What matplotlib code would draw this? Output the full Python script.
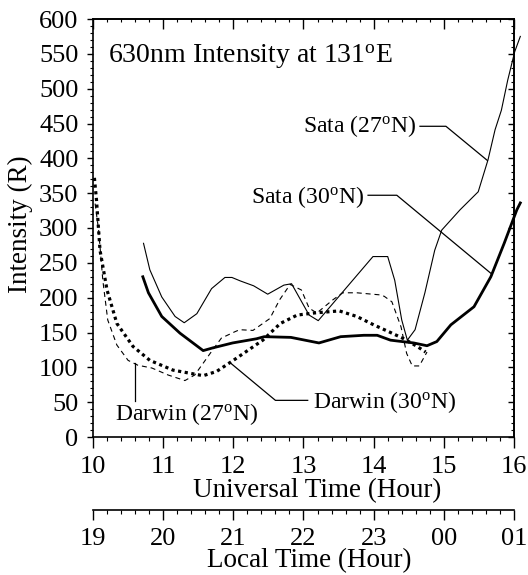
import matplotlib
matplotlib.use("Agg")
import matplotlib.pyplot as plt
from matplotlib.ticker import MultipleLocator, FixedLocator, FixedFormatter

# ---------------- data ----------------
sata27_t = [10.72, 10.81, 10.98, 11.17, 11.30, 11.48, 11.69, 11.88, 11.98, 12.10, 12.29,
            12.49, 12.72, 12.83, 13.08, 13.21, 13.99, 14.20, 14.30, 14.40, 14.48,
            14.59, 14.73, 14.87, 14.97, 15.23, 15.49, 15.63, 15.73, 15.82, 15.91,
            16.01, 16.09]
sata27_i = [278, 240, 201, 173, 164, 177, 213, 229, 229, 224, 217,
            205, 218, 220, 175, 167, 259, 259, 225, 168, 139,
            154, 207, 268, 297, 326, 352, 398, 441, 469, 512,
            553, 575]

sata30_t = [10.71, 10.79, 10.98, 11.24, 11.57, 11.71, 11.99, 12.33, 12.44, 12.82, 13.22,
            13.53, 13.86, 14.05, 14.24, 14.57, 14.76, 14.90, 15.10, 15.43, 15.67,
            15.86, 16.04, 16.09]
sata30_i = [230, 207, 173, 149, 124, 128, 135, 141, 144, 143, 135,
            144, 146, 146, 139, 135, 131, 137, 161, 187, 230,
            278, 326, 336]

darwin27_t = [10.03, 10.08, 10.14, 10.21, 10.34, 10.50, 10.64, 10.84, 11.07, 11.31, 11.45,
              11.67, 11.83, 12.02, 12.09, 12.28, 12.52, 12.66, 12.81, 12.97, 13.08,
              13.19, 13.42, 13.56, 13.76, 14.09, 14.15, 14.26, 14.39, 14.47, 14.55,
              14.65, 14.76]
darwin27_i = [335, 297, 225, 168, 132, 110, 103, 99, 89, 81, 89,
              120, 142, 151, 154, 153, 170, 197, 219, 211, 185,
              178, 197, 207, 207, 204, 202, 194, 158, 120, 102,
              102, 122]

darwin30_t = [10.02, 10.05, 10.10, 10.20, 10.34, 10.57, 10.81, 11.14, 11.57, 11.76, 12.00,
              12.42, 12.67, 12.91, 13.15, 13.51, 13.76, 14.00, 14.24, 14.43, 14.62,
              14.74]
darwin30_i = [372, 340, 268, 211, 163, 130, 110, 96, 88, 94, 110,
              139, 163, 175, 178, 181, 173, 161, 150, 141, 130,
              122]

ut_ticks = [10, 11, 12, 13, 14, 15, 16]
lt_labels = ["19", "20", "21", "22", "23", "00", "01"]
y_ticks = list(range(0, 601, 50))

title = "630nm Intensity at 131$^{\\rm o}$E"
lab_sata27 = "Sata (27$^{\\rm o}$N)"
lab_sata30 = "Sata (30$^{\\rm o}$N)"
lab_darwin27 = "Darwin (27$^{\\rm o}$N)"
lab_darwin30 = "Darwin (30$^{\\rm o}$N)"

# ---------------- style ----------------
FONT = "Liberation Serif"
plt.rcParams["font.family"] = [FONT, "DejaVu Serif"]
plt.rcParams["mathtext.fontset"] = "custom"
plt.rcParams["mathtext.rm"] = FONT
plt.rcParams["mathtext.it"] = FONT + ":italic"
plt.rcParams["mathtext.bf"] = FONT + ":bold"
FS_TICK = 19
FS_TITLE = 20
FS_AXT = 19.5
FS_ANN = 17

W, H = 528, 575
fig = plt.figure(figsize=(W / 100, H / 100), dpi=100)
L, R, T, B = 93, 514, 19, 437
ax = fig.add_axes([L / W, (H - B) / H, (R - L) / W, (B - T) / H])

ax.plot(sata27_t, sata27_i, color="black", lw=0.8, clip_on=False)
ax.plot(sata30_t, sata30_i, color="black", lw=2.0, clip_on=False)
ax.plot(darwin27_t, darwin27_i, color="black", lw=0.8, linestyle=(0, (4.5, 3.5)))
ax.plot(darwin30_t, darwin30_i, color="black", lw=2.3, linestyle=(0, (1, 1.1)),
        dash_capstyle="butt")

ax.set_xlim(10, 16)
ax.set_ylim(0, 600)

for s in ax.spines.values():
    s.set_linewidth(1.2)

# bottom / left ticks (outward)
ax.xaxis.set_major_locator(FixedLocator(ut_ticks))
ax.xaxis.set_minor_locator(MultipleLocator(0.2))
ax.yaxis.set_major_locator(FixedLocator(y_ticks))
ax.yaxis.set_minor_locator(MultipleLocator(10))
ax.tick_params(axis="x", which="major", direction="out", length=8, width=1.0,
               labelsize=FS_TICK, pad=6)
ax.tick_params(axis="x", which="minor", direction="out", length=3, width=0.8)
ax.tick_params(axis="y", which="major", direction="out", length=4.5, width=1.0,
               labelsize=FS_TICK, pad=6)
ax.tick_params(axis="y", which="minor", direction="out", length=2, width=0.8)

# top ticks (inward)
top = ax.secondary_xaxis("top")
top.xaxis.set_major_locator(FixedLocator(ut_ticks))
top.xaxis.set_minor_locator(MultipleLocator(0.2))
top.tick_params(which="major", direction="in", length=7.5, width=1.0, labeltop=False)
top.tick_params(which="minor", direction="in", length=2.5, width=0.8)
top.spines["top"].set_linewidth(1.2)

# right ticks (inward)
right = ax.secondary_yaxis("right")
right.yaxis.set_major_locator(FixedLocator(y_ticks))
right.yaxis.set_minor_locator(MultipleLocator(10))
right.tick_params(which="major", direction="in", length=4, width=1.0, labelright=False)
right.tick_params(which="minor", direction="in", length=2, width=0.8)
right.spines["right"].set_linewidth(1.2)

# local time axis
loc = -(509.6 - B) / (B - T)
lt = ax.secondary_xaxis(loc)
lt.xaxis.set_major_locator(FixedLocator(ut_ticks))
lt.xaxis.set_major_formatter(FixedFormatter(lt_labels))
lt.xaxis.set_minor_locator(MultipleLocator(0.2))
lt.tick_params(which="major", direction="out", length=7.5, width=1.0,
               labelsize=FS_TICK, pad=6)
lt.tick_params(which="minor", direction="out", length=3, width=0.8)
lt.spines["bottom"].set_linewidth(1.2)

# axis titles
fig.text(20 / W, 1 - 224 / H, "Intensity (R)", rotation=90, ha="center", va="center",
         fontsize=FS_AXT)
fig.text(317 / W, 1 - 491 / H, "Universal Time (Hour)", ha="center", va="center",
         fontsize=FS_AXT)
fig.text(309 / W, 1 - 561 / H, "Local Time (Hour)", ha="center", va="center",
         fontsize=FS_AXT)

# title inside
ax.text(10.21, 537, title, ha="left", va="baseline", fontsize=FS_TITLE)

# annotations
lk = dict(color="black", lw=0.9)
ax.text(14.60, 438, lab_sata27, ha="right", va="baseline", fontsize=FS_ANN)
ax.plot([14.66, 15.03, 15.62], [446, 446, 397], **lk)

ax.text(13.86, 336, lab_sata30, ha="right", va="baseline", fontsize=FS_ANN)
ax.plot([13.92, 14.33, 15.67], [347, 347, 235], **lk)

ax.text(10.31, 24, lab_darwin27, ha="left", va="baseline", fontsize=FS_ANN)
ax.plot([10.60, 10.60], [51, 106], **lk)

ax.text(13.13, 41.6, lab_darwin30, ha="left", va="baseline", fontsize=FS_ANN)
ax.plot([13.06, 12.60, 11.95], [52.6, 52.6, 107], **lk)

fig.savefig("out.png", dpi=100)
